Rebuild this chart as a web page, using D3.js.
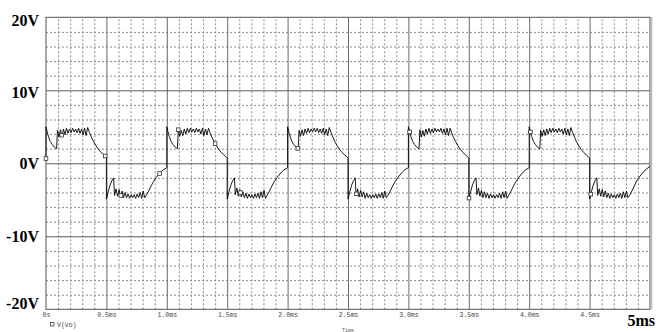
<!DOCTYPE html>
<html>
<head>
<meta charset="utf-8">
<script src="https://cdn.jsdelivr.net/npm/d3@7"></script>
<style>
  html, body { margin: 0; padding: 0; background: #fff; }
  svg { display: block; }
</style>
</head>
<body>
<div id="chart"></div>
<script>
// transient of V(vo), time in ms, volts
const pos0 = [[0.000, 0.65],[0.000, 5.0],[0.010, 4.3],[0.020, 3.7],[0.035, 3.0],[0.050, 2.6],[0.070, 2.2],[0.088, 2.0],
  [0.095, 4.5],[0.107, 3.6],[0.120, 4.6],[0.132, 3.7],[0.145, 4.7],[0.157, 3.9],[0.170, 4.8],[0.182, 4.1],[0.195, 4.7],[0.207, 4.2],
  [0.220, 4.8],[0.232, 4.3],[0.245, 4.7],[0.257, 4.2],[0.270, 4.8],[0.282, 4.1],[0.295, 4.7],[0.307, 3.9],[0.320, 4.8],[0.332, 3.8],[0.345, 4.9],
  [0.360, 4.2],[0.375, 3.6],[0.390, 3.1],[0.410, 2.5],[0.430, 2.0],[0.450, 1.6],[0.470, 1.3],[0.490, 1.0],[0.500, 0.8]];
const neg0 = [[0.500, -4.9],[0.515, -3.9],[0.530, -3.0],[0.545, -2.4],[0.560, -2.0],[0.567, -4.4],[0.580, -3.5],[0.592, -4.5],[0.605, -3.6],
  [0.617, -4.6],[0.630, -3.8],[0.642, -4.7],[0.655, -4.0],[0.667, -4.7],[0.680, -4.2],[0.692, -4.8],[0.705, -4.3],[0.717, -4.7],[0.730, -4.3],
  [0.742, -4.8],[0.755, -4.2],[0.767, -4.7],[0.780, -4.0],[0.792, -4.8],[0.805, -3.8],[0.817, -4.7],[0.830, -4.4],
  [0.850, -3.8],[0.870, -3.1],[0.890, -2.5],[0.910, -2.0],[0.930, -1.6],[0.950, -1.2],[0.970, -0.9],[1.000, -0.6]];
const pos1 = [[1.000, 5.0],[1.010, 4.3],[1.020, 3.7],[1.035, 3.0],[1.050, 2.6],[1.070, 2.2],[1.088, 2.0],
  [1.095, 4.6],[1.107, 3.7],[1.120, 4.5],[1.132, 3.8],[1.145, 4.7],[1.157, 4.0],[1.170, 4.8],[1.182, 4.2],[1.195, 4.8],[1.207, 4.3],
  [1.220, 4.7],[1.232, 4.2],[1.245, 4.8],[1.257, 4.3],[1.270, 4.7],[1.282, 4.0],[1.295, 4.8],[1.307, 3.8],[1.320, 4.7],[1.332, 3.9],[1.345, 4.8],
  [1.360, 4.1],[1.375, 3.5],[1.390, 3.0],[1.410, 2.4],[1.430, 1.9],[1.450, 1.5],[1.470, 1.2],[1.490, 0.9],[1.500, 0.7]];
const neg1 = [[1.500, -4.9],[1.515, -3.9],[1.530, -3.0],[1.545, -2.4],[1.560, -2.0],[1.567, -4.3],[1.580, -3.4],[1.592, -4.5],[1.605, -3.6],
  [1.617, -4.6],[1.630, -3.9],[1.642, -4.7],[1.655, -4.1],[1.667, -4.8],[1.680, -4.2],[1.692, -4.7],[1.705, -4.3],[1.717, -4.8],[1.730, -4.2],
  [1.742, -4.7],[1.755, -4.1],[1.767, -4.8],[1.780, -3.9],[1.792, -4.7],[1.805, -3.7],[1.817, -4.8],[1.830, -4.4],
  [1.850, -3.8],[1.870, -3.1],[1.890, -2.5],[1.910, -2.0],[1.930, -1.6],[1.950, -1.2],[1.970, -0.9],[2.000, -0.6]];
const pos2 = [[2.000, 5.0],[2.010, 4.3],[2.020, 3.7],[2.035, 3.0],[2.050, 2.6],[2.070, 2.2],[2.088, 2.0],
  [2.095, 4.5],[2.107, 3.7],[2.120, 4.6],[2.132, 3.8],[2.145, 4.7],[2.157, 4.1],[2.170, 4.8],[2.182, 4.2],[2.195, 4.7],[2.207, 4.3],
  [2.220, 4.8],[2.232, 4.3],[2.245, 4.8],[2.257, 4.2],[2.270, 4.7],[2.282, 4.1],[2.295, 4.8],[2.307, 3.9],[2.320, 4.7],[2.332, 3.8],[2.345, 4.9],
  [2.360, 4.2],[2.375, 3.6],[2.390, 3.0],[2.410, 2.4],[2.430, 1.9],[2.450, 1.5],[2.470, 1.2],[2.490, 0.9],[2.500, 0.7]];
const neg2 = [[2.500, -4.9],[2.515, -3.9],[2.530, -3.0],[2.545, -2.4],[2.560, -2.0],[2.567, -4.4],[2.580, -3.5],[2.592, -4.6],[2.605, -3.7],
  [2.617, -4.6],[2.630, -3.9],[2.642, -4.8],[2.655, -4.1],[2.667, -4.7],[2.680, -4.3],[2.692, -4.8],[2.705, -4.3],[2.717, -4.7],[2.730, -4.2],
  [2.742, -4.8],[2.755, -4.2],[2.767, -4.7],[2.780, -4.0],[2.792, -4.8],[2.805, -3.8],[2.817, -4.7],[2.830, -4.4],
  [2.850, -3.8],[2.870, -3.1],[2.890, -2.5],[2.910, -2.0],[2.930, -1.6],[2.950, -1.2],[2.970, -0.9],[3.000, -0.6]];
const pos3 = [[3.000, 5.0],[3.010, 4.3],[3.020, 3.7],[3.035, 3.0],[3.050, 2.6],[3.070, 2.2],[3.088, 2.0],
  [3.095, 4.6],[3.107, 3.6],[3.120, 4.5],[3.132, 3.7],[3.145, 4.7],[3.157, 4.0],[3.170, 4.8],[3.182, 4.1],[3.195, 4.7],[3.207, 4.2],
  [3.220, 4.8],[3.232, 4.3],[3.245, 4.7],[3.257, 4.3],[3.270, 4.8],[3.282, 4.1],[3.295, 4.7],[3.307, 3.9],[3.320, 4.8],[3.332, 3.8],[3.345, 4.8],
  [3.360, 4.1],[3.375, 3.5],[3.390, 3.0],[3.410, 2.4],[3.430, 1.9],[3.450, 1.5],[3.470, 1.2],[3.490, 0.9],[3.500, 0.7]];
const neg3 = [[3.500, -4.9],[3.515, -3.9],[3.530, -3.0],[3.545, -2.4],[3.560, -2.0],[3.567, -4.3],[3.580, -3.4],[3.592, -4.5],[3.605, -3.7],
  [3.617, -4.7],[3.630, -3.9],[3.642, -4.7],[3.655, -4.1],[3.667, -4.8],[3.680, -4.2],[3.692, -4.7],[3.705, -4.3],[3.717, -4.8],[3.730, -4.3],
  [3.742, -4.7],[3.755, -4.1],[3.767, -4.8],[3.780, -3.9],[3.792, -4.7],[3.805, -3.8],[3.817, -4.8],[3.830, -4.4],
  [3.850, -3.8],[3.870, -3.1],[3.890, -2.5],[3.910, -2.0],[3.930, -1.6],[3.950, -1.2],[3.970, -0.9],[4.000, -0.6]];
const pos4 = [[4.000, 5.0],[4.010, 4.3],[4.020, 3.7],[4.035, 3.0],[4.050, 2.6],[4.070, 2.2],[4.088, 2.0],
  [4.095, 4.5],[4.107, 3.7],[4.120, 4.6],[4.132, 3.8],[4.145, 4.7],[4.157, 4.0],[4.170, 4.8],[4.182, 4.2],[4.195, 4.8],[4.207, 4.3],
  [4.220, 4.7],[4.232, 4.2],[4.245, 4.8],[4.257, 4.3],[4.270, 4.7],[4.282, 4.0],[4.295, 4.8],[4.307, 3.9],[4.320, 4.7],[4.332, 3.8],[4.345, 4.9],
  [4.360, 4.2],[4.375, 3.6],[4.390, 3.0],[4.410, 2.4],[4.430, 1.9],[4.450, 1.5],[4.470, 1.2],[4.490, 0.9],[4.500, 0.7]];
const neg4 = [[4.500, -4.9],[4.515, -3.9],[4.530, -3.0],[4.545, -2.4],[4.560, -2.0],[4.567, -4.4],[4.580, -3.5],[4.592, -4.5],[4.605, -3.6],
  [4.617, -4.6],[4.630, -3.8],[4.642, -4.7],[4.655, -4.1],[4.667, -4.8],[4.680, -4.2],[4.692, -4.7],[4.705, -4.3],[4.717, -4.8],[4.730, -4.2],
  [4.742, -4.7],[4.755, -4.1],[4.767, -4.8],[4.780, -3.9],[4.792, -4.7],[4.805, -3.8],[4.817, -4.7],[4.830, -4.4],
  [4.850, -3.8],[4.870, -3.1],[4.890, -2.4],[4.910, -1.9],[4.930, -1.5],[4.950, -1.1],[4.970, -0.8],[5.000, -0.4]];

// marker symbols placed along the trace (ms)
const markerTimes = [0, 0.13, 0.49, 0.62, 0.94, 1.095, 1.40, 1.61, 2.085, 2.57, 3.01, 3.502, 4.01, 4.51];

const yTicks = [20, 10, 0, -10, -20];
const xLabelTicks = [0, 0.5, 1.0, 1.5, 2.0, 2.5, 3.0, 3.5, 4.0, 4.5];
const xLabels = ['0s', '0.5ms', '1.0ms', '1.5ms', '2.0ms', '2.5ms', '3.0ms', '3.5ms', '4.0ms', '4.5ms'];
const seriesName = 'V(vo)';

const vo = [].concat(pos0, neg0, pos1, neg1, pos2, neg2, pos3, neg3, pos4, neg4);

const W = 656, H = 332;
const plotLeft = 46, plotRight = 650, plotTop = 17.3, plotBottom = 309.3;

const svg = d3.select('#chart').append('svg')
  .attr('width', W)
  .attr('height', H);

const x = d3.scaleLinear().domain([0, 5]).range([plotLeft, plotRight]);
const y = d3.scaleLinear().domain([-20, 20]).range([plotBottom, plotTop]);

// dotted minor grid
svg.append('g')
  .attr('transform', `translate(0,${plotBottom})`)
  .call(d3.axisBottom(x).tickValues(d3.range(1, 50).filter(i => i % 5 !== 0).map(i => i / 10)).tickSize(-(plotBottom - plotTop)).tickFormat(''))
  .call(g => g.select('.domain').remove())
  .call(g => g.selectAll('line').attr('stroke', '#8a8a8a').attr('stroke-dasharray', '2,2'));

svg.append('g')
  .attr('transform', `translate(${plotLeft},0)`)
  .call(d3.axisLeft(y).tickValues(d3.range(-18, 20, 2).filter(v => v % 10 !== 0)).tickSize(-(plotRight - plotLeft)).tickFormat(''))
  .call(g => g.select('.domain').remove())
  .call(g => g.selectAll('line').attr('stroke', '#8a8a8a').attr('stroke-dasharray', '2,2'));

// solid major grid
svg.append('g')
  .attr('transform', `translate(0,${plotBottom})`)
  .call(d3.axisBottom(x).tickValues([0.5, 1, 1.5, 2, 2.5, 3, 3.5, 4, 4.5]).tickSize(-(plotBottom - plotTop)).tickFormat(''))
  .call(g => g.select('.domain').remove())
  .call(g => g.selectAll('line').attr('stroke', '#6a6a6a'));

svg.append('g')
  .attr('transform', `translate(${plotLeft},0)`)
  .call(d3.axisLeft(y).tickValues([10, 0, -10]).tickSize(-(plotRight - plotLeft)).tickFormat(''))
  .call(g => g.select('.domain').remove())
  .call(g => g.selectAll('line').attr('stroke', '#5a5a5a'));

// frame
svg.append('rect')
  .attr('x', plotLeft).attr('y', plotTop)
  .attr('width', plotRight - plotLeft).attr('height', plotBottom - plotTop)
  .attr('fill', 'none').attr('stroke', '#555').attr('stroke-width', 1);
svg.append('line')
  .attr('x1', plotRight + 1.5).attr('x2', plotRight + 1.5).attr('y1', plotTop).attr('y2', plotBottom)
  .attr('stroke', '#bbb').attr('stroke-width', 1.5);

// y labels
svg.append('g')
  .attr('transform', `translate(${plotLeft},0)`)
  .call(d3.axisLeft(y).tickValues(yTicks).tickSize(0).tickPadding(7).tickFormat(d => d + 'V'))
  .call(g => g.select('.domain').remove())
  .call(g => g.selectAll('text')
    .attr('dy', d => d === 20 ? '0.5em' : d === -20 ? '-0.08em' : d === 10 ? '0.42em' : '0.35em')
    .style('font-family', '"Liberation Serif", "Times New Roman", serif')
    .style('font-weight', 'bold')
    .style('font-size', '16px')
    .attr('fill', '#000'));

// x tick labels
svg.append('g')
  .attr('transform', `translate(0,${plotBottom})`)
  .call(d3.axisBottom(x).tickValues(xLabelTicks).tickSize(0).tickPadding(3.5)
    .tickFormat((d, i) => xLabels[i]))
  .call(g => g.select('.domain').remove())
  .call(g => g.selectAll('text')
    .style('font-family', '"Liberation Mono", "DejaVu Sans Mono", monospace')
    .style('font-size', '6.5px')
    .attr('fill', '#444'));

svg.append('text')
  .attr('x', 655).attr('y', 325.5)
  .attr('text-anchor', 'end')
  .style('font-family', '"Liberation Serif", "Times New Roman", serif')
  .style('font-weight', 'bold')
  .style('font-size', '16px')
  .text('5ms');

svg.append('text')
  .attr('x', (plotLeft + plotRight) / 2).attr('y', 331.5)
  .attr('text-anchor', 'middle')
  .style('font-family', '"Liberation Mono", "DejaVu Sans Mono", monospace')
  .style('font-size', '5px')
  .attr('fill', '#555')
  .text('Time');

// legend
svg.append('rect')
  .attr('x', 50.5).attr('y', 322.5).attr('width', 3.5).attr('height', 3.5)
  .attr('fill', '#fff').attr('stroke', '#444').attr('stroke-width', 0.8);
svg.append('text')
  .attr('x', 57).attr('y', 326.5)
  .style('font-family', '"Liberation Mono", "DejaVu Sans Mono", monospace')
  .style('font-size', '6.5px')
  .attr('fill', '#444')
  .text(seriesName);

// trace
const line = d3.line().x(d => x(d[0])).y(d => y(d[1]));
svg.append('path')
  .datum(vo)
  .attr('fill', 'none')
  .attr('stroke', '#000')
  .attr('stroke-width', 0.9)
  .attr('d', line);

// markers sit on the trace
const byTime = d3.bisector(d => d[0]);
const valueAt = t => {
  const i = byTime.left(vo, t);
  if (i >= vo.length) return vo[vo.length - 1][1];
  if (vo[i][0] === t || i === 0) return vo[i][1];
  const a = vo[i - 1], b = vo[i];
  return a[1] + (b[1] - a[1]) * (t - a[0]) / (b[0] - a[0]);
};
svg.append('g')
  .selectAll('rect')
  .data(markerTimes)
  .enter().append('rect')
  .attr('x', d => x(d) - 1.8)
  .attr('y', d => y(valueAt(d)) - 1.8)
  .attr('width', 3.6).attr('height', 3.6)
  .attr('fill', '#fff')
  .attr('stroke', '#333')
  .attr('stroke-width', 0.8);
</script>
</body>
</html>
